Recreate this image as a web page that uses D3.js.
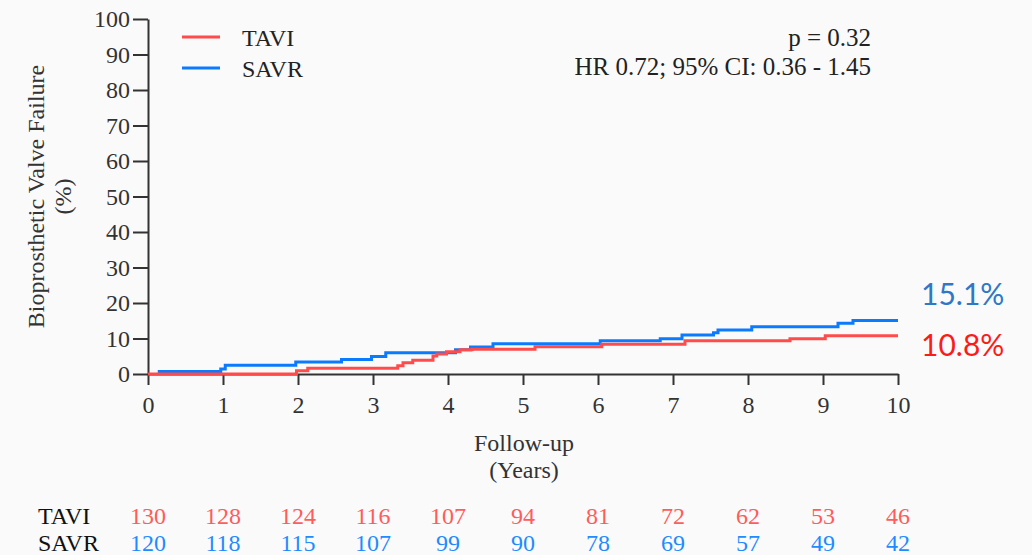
<!DOCTYPE html>
<html>
<head>
<meta charset="utf-8">
<script src="https://cdn.jsdelivr.net/npm/d3@7"></script>
<style>
  html, body { margin: 0; padding: 0; background: #fafafa; }
  svg { display: block; }
</style>
</head>
<body>
<div id="chart"></div>
<script>
// step events: [years, cumulative %]
const taviSteps = [
  [0, 0], [1.98, 0.9], [2.13, 1.6], [3.33, 2.3], [3.4, 3.2], [3.53, 3.9],
  [3.8, 5.1], [3.85, 5.6], [3.98, 6.3], [4.16, 6.8], [4.32, 7.0], [5.16, 7.7],
  [6.05, 8.4], [7.16, 9.4], [8.56, 9.9], [9.03, 10.8], [10, 10.8]
];
const savrSteps = [
  [0, 0], [0.13, 0.7], [0.97, 1.4], [1.03, 2.5], [1.97, 3.4], [2.58, 4.1],
  [2.98, 4.9], [3.17, 6.0], [4.1, 6.8], [4.3, 7.6], [4.6, 8.5], [6.03, 9.4],
  [6.83, 9.9], [7.12, 11.0], [7.54, 11.6], [7.6, 12.4], [8.05, 13.3],
  [9.2, 14.3], [9.4, 15.1], [10, 15.1]
];
const riskYears = [0, 1, 2, 3, 4, 5, 6, 7, 8, 9, 10];
const taviAtRisk = [130, 128, 124, 116, 107, 94, 81, 72, 62, 53, 46];
const savrAtRisk = [120, 118, 115, 107, 99, 90, 78, 69, 57, 49, 42];
const yTicks = [0, 10, 20, 30, 40, 50, 60, 70, 80, 90, 100];
const finalLabels = [
  { name: 'SAVR', text: '15.1%' },
  { name: 'TAVI', text: '10.8%' }
];

const width = 1032;
const height = 555;
const margin = { top: 19, right: 134, bottom: 181, left: 148 };
const serif = '"Liberation Serif", "Times New Roman", serif';
const fontSize = '24px';
const red = '#ff4b4b';
const blue = '#0a7bff';
const axisColor = '#333';

const x = d3.scaleLinear()
  .domain([0, 10])
  .range([margin.left, width - margin.right]);

const y = d3.scaleLinear()
  .domain([0, 100])
  .range([height - margin.bottom, margin.top]);

const svg = d3.select('#chart')
  .append('svg')
  .attr('width', width)
  .attr('height', height)
  .style('font-family', serif);

svg.append('rect')
  .attr('width', width)
  .attr('height', height)
  .attr('fill', '#fafafa');

// y axis
const yAxis = g => g
  .attr('transform', `translate(${margin.left},0)`)
  .call(d3.axisLeft(y).tickValues(yTicks).tickSize(15).tickPadding(3).tickSizeOuter(0))
  .call(g => g.selectAll('path, line').attr('stroke', axisColor).attr('stroke-width', 2))
  .call(g => g.selectAll('text')
    .attr('fill', axisColor)
    .style('font-family', serif)
    .style('font-size', fontSize));

// x axis
const xAxis = g => g
  .attr('transform', `translate(0,${y(0)})`)
  .call(d3.axisBottom(x).tickValues(riskYears).tickFormat(d3.format('d')).tickSize(11).tickPadding(11).tickSizeOuter(0))
  .call(g => g.selectAll('path, line').attr('stroke', axisColor).attr('stroke-width', 2))
  .call(g => g.selectAll('text')
    .attr('fill', axisColor)
    .style('font-family', serif)
    .style('font-size', fontSize));

svg.append('g').call(yAxis);
svg.append('g').call(xAxis);

// curves
const line = d3.line()
  .curve(d3.curveStepAfter)
  .x(d => x(d[0]))
  .y(d => y(d[1]));

svg.append('path')
  .datum(savrSteps.slice(1))
  .attr('fill', 'none')
  .attr('stroke', blue)
  .attr('stroke-width', 3)
  .attr('d', line);

svg.append('path')
  .datum(taviSteps)
  .attr('fill', 'none')
  .attr('stroke', red)
  .attr('stroke-width', 3)
  .attr('d', line);

// axis titles
svg.append('text')
  .attr('transform', `translate(44,${y(50)}) rotate(-90)`)
  .attr('text-anchor', 'middle')
  .attr('fill', axisColor)
  .style('font-size', fontSize)
  .call(t => t.append('tspan').attr('x', 0).attr('dy', 0).text('Bioprosthetic Valve Failure'))
  .call(t => t.append('tspan').attr('x', 0).attr('dy', 27).text('(%)'));

svg.append('text')
  .attr('y', 451)
  .attr('text-anchor', 'middle')
  .attr('fill', axisColor)
  .style('font-size', fontSize)
  .call(t => t.append('tspan').attr('x', 524).text('Follow-up'))
  .call(t => t.append('tspan').attr('x', 524).attr('dy', 27).text('(Years)'));

// legend
const legend = svg.append('g')
  .style('font-size', fontSize);

[{ name: 'TAVI', color: red }, { name: 'SAVR', color: blue }].forEach((d, i) => {
  const row = legend.append('g').attr('transform', `translate(182,${37 + i * 31})`);
  row.append('line')
    .attr('x1', 0).attr('x2', 38)
    .attr('stroke', d.color)
    .attr('stroke-width', 3);
  row.append('text')
    .attr('x', 60)
    .attr('y', 8.5)
    .attr('fill', '#222')
    .text(d.name);
});

// stats
svg.append('g')
  .attr('text-anchor', 'end')
  .attr('fill', '#222')
  .style('font-size', '25px')
  .call(g => g.append('text').attr('x', 871).attr('y', 46).text('p = 0.32'))
  .call(g => g.append('text').attr('x', 871).attr('y', 75).text('HR 0.72; 95% CI: 0.36 - 1.45'));

// final percentages
const finalColor = { SAVR: '#2e78c7', TAVI: '#ff1a1a' };
const finalValue = {
  SAVR: savrSteps[savrSteps.length - 1][1],
  TAVI: taviSteps[taviSteps.length - 1][1]
};
svg.append('g')
  .style('font-family', 'Lato, "Noto Sans", sans-serif')
  .style('font-size', '30px')
  .selectAll('text')
  .data(finalLabels)
  .join('text')
  .attr('x', 921)
  .attr('y', d => d.name === 'SAVR' ? y(finalValue.SAVR) - 15 : y(finalValue.TAVI) + 20)
  .attr('fill', d => finalColor[d.name])
  .text(d => d.text);

// numbers at risk
const riskRows = [
  { name: 'TAVI', values: taviAtRisk, color: '#ff5c5c', yPos: 524 },
  { name: 'SAVR', values: savrAtRisk, color: '#1f8bff', yPos: 551 }
];

const risk = svg.append('g')
  .style('font-size', fontSize)
  .selectAll('g')
  .data(riskRows)
  .join('g')
  .attr('transform', d => `translate(0,${d.yPos})`);

risk.append('text')
  .attr('x', 38)
  .attr('fill', '#111')
  .text(d => d.name);

risk.selectAll('text.n')
  .data(d => d.values.map((v, i) => ({ v, year: riskYears[i], color: d.color })))
  .join('text')
  .attr('class', 'n')
  .attr('x', d => x(d.year))
  .attr('text-anchor', 'middle')
  .attr('fill', d => d.color)
  .text(d => d.v);
</script>
</body>
</html>
